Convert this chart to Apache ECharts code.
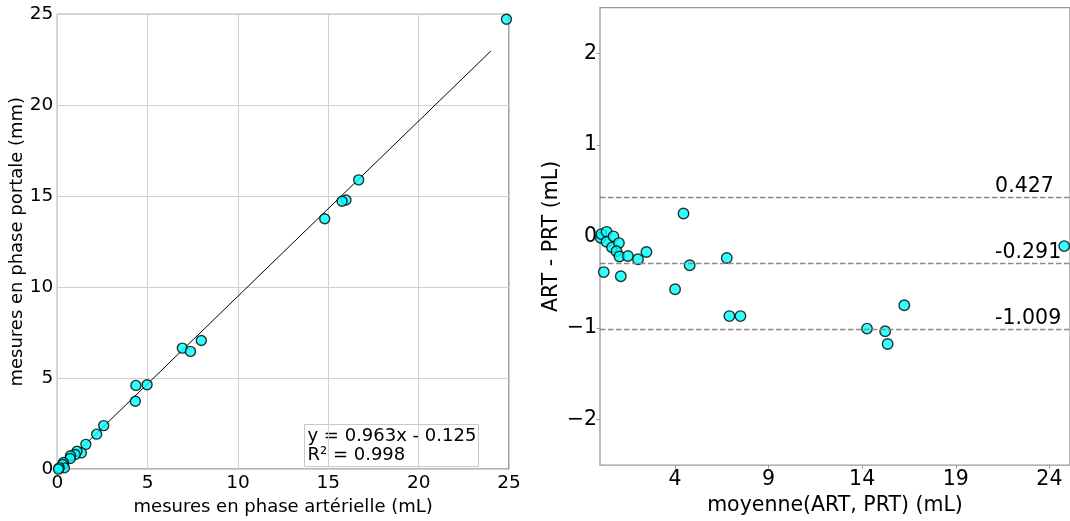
<!DOCTYPE html>
<html>
<head>
<meta charset="utf-8">
<script src="https://cdn.jsdelivr.net/npm/echarts@6/dist/echarts.min.js"></script>
<style>
html,body{margin:0;padding:0;background:#fff;}
#c{width:1070px;height:521px;}
</style>
</head>
<body>
<div id="c"></div>
<script>
// Left chart: arterial vs portal phase measurements
const artPhase  = [24.86, 16.68, 15.98, 15.76, 14.80, 7.97, 6.92, 7.37, 4.97, 4.35, 4.32, 2.57, 2.18, 1.58, 1.33, 1.09, 0.99, 0.73, 0.71, 0.34, 0.30, 0.39, 0.11, 0.06];
const portPhase = [24.73, 15.90, 14.79, 14.72, 13.76, 7.07, 6.65, 6.47, 4.64, 4.60, 3.73, 2.39, 1.92, 1.36, 0.89, 0.98, 0.80, 0.73, 0.58, 0.36, 0.25, 0.07, 0.07, 0.00];
const fitLine = [[0, -0.125], [24, 22.987]];
const fitText = ['y = 0.963x - 0.125', 'R\u00b2 = 0.998'];

// Right chart: Bland-Altman
const meanVals = [0.04, 0.07, 0.20, 0.35, 0.35, 0.72, 0.64, 1.01, 0.88, 1.04, 1.11, 1.49, 2.03, 2.48, 4.01, 4.46, 4.79, 6.77, 6.91, 7.50, 14.26, 15.23, 15.36, 16.25, 24.79];
const diffVals = [-0.015, 0.025, -0.39, 0.05, -0.059, 0.0, -0.12, -0.073, -0.163, -0.22, -0.436, -0.215, -0.25, -0.171, -0.577, 0.25, -0.316, -0.236, -0.871, -0.871, -1.008, -1.037, -1.176, -0.753, -0.106];
const limitVals = [0.427, -0.291, -1.009];
const limitLabels = ['0.427', '-0.291', '-1.009'];
const limitLabelX = 21.1;
const rightXTicks = [4, 9, 14, 19, 24];
const rightYTicks = [-2, -1, 0, 1, 2];

const FONT = 'DejaVu Sans';
const leftPts = artPhase.map((a, i) => [a, portPhase[i]]);
const rightPts = meanVals.map((m, i) => [m, diffVals[i]]);
const limitPts = limitVals.map((v, i) => [limitLabelX, v]);

const markerStyle = { color: '#00ffff', borderColor: '#000', borderWidth: 1.4 };

const chart = echarts.init(document.getElementById('c'), null, { renderer: 'canvas' });
chart.setOption({
  animation: false,
  backgroundColor: '#fff',
  textStyle: { fontFamily: FONT },
  grid: [
    { left: 57.3, top: 14.3, width: 451.7, height: 459.7, show: true, borderColor: '#444', borderWidth: 1, backgroundColor: 'transparent' },
    { left: 600, top: 7.7, width: 473, height: 459.3, show: true, borderColor: '#999', borderWidth: 1.3, backgroundColor: 'transparent' }
  ],
  xAxis: [
    {
      gridIndex: 0, type: 'value', min: 0, max: 25, interval: 5,
      name: 'mesures en phase art\u00e9rielle (mL)', nameLocation: 'middle', nameGap: 25,
      nameTextStyle: { fontSize: 18, color: '#000', fontFamily: FONT },
      axisLine: { show: false, onZero: false }, axisTick: { show: false },
      axisLabel: { fontSize: 18.5, color: '#000', margin: 5, fontFamily: FONT },
      splitLine: { show: true, lineStyle: { color: '#d0d0d0', width: 1 } }
    },
    {
      gridIndex: 1, type: 'value', min: 0, max: 25.1,
      name: 'moyenne(ART, PRT) (mL)', nameLocation: 'middle', nameGap: 29,
      nameTextStyle: { fontSize: 20.5, color: '#000', fontFamily: FONT },
      axisLine: { show: false, onZero: false },
      axisTick: { show: true, length: 3.5, lineStyle: { color: '#999' }, customValues: rightXTicks },
      axisLabel: { fontSize: 20.5, color: '#000', margin: 4, fontFamily: FONT, customValues: rightXTicks },
      splitLine: { show: false }
    }
  ],
  yAxis: [
    {
      gridIndex: 0, type: 'value', min: 0, max: 25, interval: 5,
      name: 'mesures en phase portale (mm)', nameLocation: 'middle', nameGap: 30,
      nameTextStyle: { fontSize: 18, color: '#000', fontFamily: FONT },
      axisLine: { show: false, onZero: false }, axisTick: { show: false },
      axisLabel: { fontSize: 18.5, color: '#000', margin: 4, fontFamily: FONT },
      splitLine: { show: true, lineStyle: { color: '#d0d0d0', width: 1 } }
    },
    {
      gridIndex: 1, type: 'value', min: -2.5, max: 2.5,
      name: 'ART - PRT (mL)', nameLocation: 'middle', nameGap: 38,
      nameTextStyle: { fontSize: 20.5, color: '#000', fontFamily: FONT },
      axisLine: { show: false, onZero: false },
      axisTick: { show: true, length: 3.5, lineStyle: { color: '#999' }, customValues: rightYTicks },
      axisLabel: { fontSize: 20.5, color: '#000', margin: 3, fontFamily: FONT, customValues: rightYTicks,
        formatter: v => (v < 0 ? '\u2212' + Math.abs(v) : String(v)) },
      splitLine: { show: false }
    }
  ],
  series: [
    {
      type: 'line', xAxisIndex: 0, yAxisIndex: 0, data: fitLine, symbol: 'none', clip: true,
      lineStyle: { color: '#000', width: 1 }, z: 2, silent: true
    },
    {
      type: 'scatter', xAxisIndex: 0, yAxisIndex: 0, data: leftPts, symbolSize: 10,
      itemStyle: markerStyle, z: 3, silent: true
    },
    {
      type: 'scatter', xAxisIndex: 1, yAxisIndex: 1, data: rightPts, symbolSize: 10.5,
      itemStyle: markerStyle, z: 3, silent: true, clip: false,
      markLine: {
        silent: true, symbol: 'none', animation: false,
        label: { show: false },
        lineStyle: { color: '#8c8c8c', type: [5.5, 2.5], width: 1.3 },
        data: limitVals.map(v => ({ yAxis: v }))
      }
    },
    {
      type: 'scatter', xAxisIndex: 1, yAxisIndex: 1, data: limitPts, symbolSize: 0, silent: true, z: 4,
      itemStyle: { opacity: 1 },
      label: {
        show: true, position: [0, 0], align: 'left', verticalAlign: 'bottom',
        fontSize: 20.5, color: '#000', opacity: 1, fontFamily: FONT,
        formatter: p => limitLabels[p.dataIndex]
      }
    }
  ],
  graphic: [
    {
      type: 'group', left: 304, top: 424,
      children: [
        { type: 'rect', shape: { x: 0, y: 0, width: 174, height: 42 },
          style: { fill: 'rgba(255,255,255,0.85)', stroke: '#c8c8c8', lineWidth: 1 } },
        { type: 'text', x: 3, y: 2,
          style: { text: fitText.join('\n'), font: '18px "DejaVu Sans"', fill: '#000', lineHeight: 19.5 } }
      ]
    }
  ]
});
</script>
</body>
</html>
